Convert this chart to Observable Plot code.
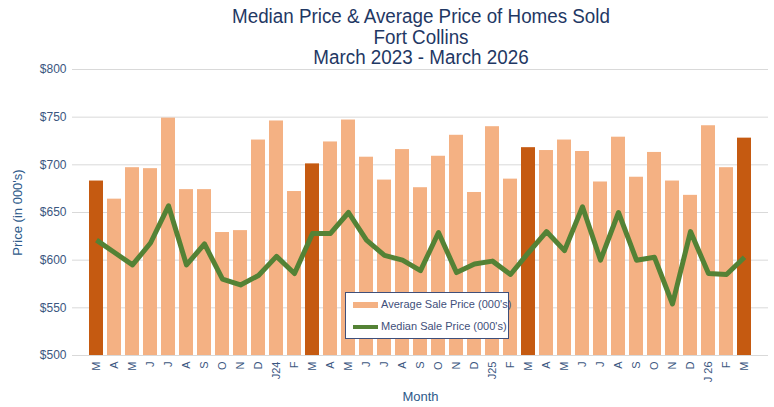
<!DOCTYPE html>
<html>
<head>
<meta charset="utf-8">
<script src="https://cdn.jsdelivr.net/npm/d3@7"></script>
<script src="https://cdn.jsdelivr.net/npm/@observablehq/plot@0.6"></script>
<style>
  html, body { margin: 0; padding: 0; background: #fff; }
  #wrap { width: 774px; height: 407px; position: relative; overflow: hidden; background: #fff; }
  #chart { position: absolute; left: 0; top: 56px; }
  #title { position: absolute; left: 0; top: 0; width: 842px; height: 66px; transform: scaleX(0.94); transform-origin: 421px 0; z-index: 2; }
  #title div { position: absolute; left: 0; width: 842px; text-align: center; font-family: "Liberation Sans", Arial, sans-serif; font-size: 20px; color: #1F3864; line-height: 20px; }
</style>
</head>
<body>
<div id="wrap">
  <div id="chart"></div>
  <div id="title">
    <div style="top:6px">Median Price &amp; Average Price of Homes Sold</div>
    <div style="top:27px">Fort Collins</div>
    <div style="top:47px">March 2023 - March 2026</div>
  </div>
</div>
<script>
const months = ["M","A","M","J","J","A","S","O","N","D","J24","F",
                "M","A","M","J","J","A","S","O","N","D","J25","F",
                "M","A","M","J","J","A","S","O","N","D","J 26","F","M"];
const averagePrice = [683,664,697,696,749,674,674,629,631,726,746,672,
                      701,724,747,708,684,716,676,709,731,671,740,685,
                      718,715,726,714,682,729,687,713,683,668,741,697,728];
const medianPrice = [621,608,595,618,657,595,617,580,574,584,604,586,
                     628,628,650,621,605,600,589,629,587,596,599,585,
                     608,630,610,656,600,650,600,603,554,630,586,585,603];
const highlightMonths = [0, 12, 24, 36];
const yTicks = [500,550,600,650,700,750,800];

const data = months.map((m, i) => ({
  i, label: m, avg: averagePrice[i], med: medianPrice[i],
  march: highlightMonths.includes(i)
}));

const chart = Plot.plot({
  width: 774,
  height: 351,
  marginTop: 13,
  marginBottom: 52,
  marginLeft: 72,
  marginRight: 6,
  style: { fontFamily: "'Liberation Sans', Arial, sans-serif", background: "transparent" },
  x: { type: "band", domain: d3.range(months.length), paddingInner: 0.25, paddingOuter: 0.125 },
  y: { domain: [500, 800] },
  marks: [
    Plot.gridY(yTicks, { stroke: "#D9D9D9", strokeOpacity: 1, strokeWidth: 1 }),
    Plot.barY(data, { x: "i", y1: 500, y2: "avg", fill: d => d.march ? "#C55A11" : "#F4B183" }),
    Plot.ruleY([500], { stroke: "#D9D9D9" }),
    Plot.line(data, { x: "i", y: "med", stroke: "#548235", strokeWidth: 5, strokeLinejoin: "round", strokeLinecap: "butt" }),
    Plot.axisY(yTicks, {
      tickSize: 0, tickPadding: 6, fontSize: 12, fill: "#3B5680",
      tickFormat: d => "$" + d,
      label: "Price (in 000's)", labelAnchor: "center", labelArrow: "none", labelOffset: 60
    }),
    Plot.axisX({
      tickSize: 0, tickPadding: 6, tickRotate: -90, fontSize: 11, fill: "#3B5680",
      tickFormat: i => months[i],
      label: "Month", labelAnchor: "center", labelArrow: "none", labelOffset: 45
    })
  ]
});

d3.select(chart).selectAll("[aria-label='y-axis label'] text, [aria-label='x-axis label'] text")
  .attr("font-size", 13).attr("fill", "#2E5A8A");

document.getElementById("chart").appendChild(chart);

const legend = document.createElement("div");
legend.style.cssText = "position:absolute;left:345px;top:292px;width:164px;height:47px;background:#fff;border:1px solid #3F4F7A;box-sizing:border-box;font-family:'Liberation Sans',Arial,sans-serif;font-size:11px;color:#3F4F7A;";
legend.innerHTML = `
  <div style="position:absolute;left:7px;top:9px;width:25px;height:6px;background:#F4B183"></div>
  <div style="position:absolute;left:35px;top:5px;white-space:nowrap">Average Sale Price (000's)</div>
  <div style="position:absolute;left:7px;top:32px;width:25px;height:4px;background:#548235"></div>
  <div style="position:absolute;left:35px;top:27px;white-space:nowrap">Median Sale Price (000's)</div>`;
document.getElementById("wrap").appendChild(legend);
</script>
</body>
</html>
